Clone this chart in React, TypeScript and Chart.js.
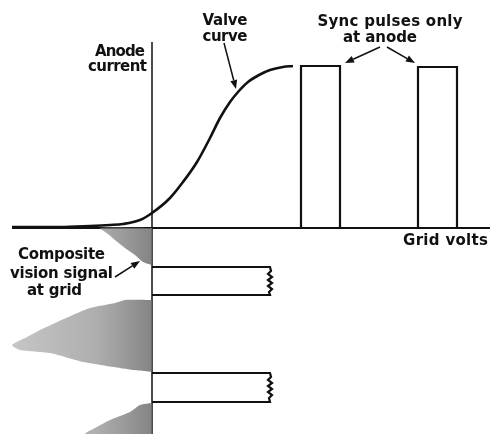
import React, { useEffect, useRef } from "react";
import { Chart, registerables } from "chart.js";

Chart.register(...registerables);

// Data units: x = grid volts (0 at the anode-current axis), y = anode current above 0,
// time (signal) below 0.
const valveCurveX = [-140, -92, -62, -42, -29, -12, 0, 18, 31, 45, 58, 68, 78, 86, 96, 107, 118, 131, 141];
const valveCurveY = [1, 1, 2, 3, 4, 8, 15, 30, 46, 66, 90, 110, 126, 136, 146, 153, 158, 161, 162];

const syncPulse1X = [149, 149, 188, 188];
const syncPulse1Y = [0, 162, 162, 0];
const syncPulse2X = [266, 266, 305, 305];
const syncPulse2Y = [0, 161, 161, 0];

const gridPulse1X = [0, 118, 119, 116, 120, 116, 120, 116, 120, 117, 118, 0];
const gridPulse1Y = [-39, -39, -43, -46, -49, -52, -55, -58, -61, -64, -67, -67];
const gridPulse2X = [0, 118, 119, 116, 120, 116, 120, 116, 120, 117, 118, 0];
const gridPulse2Y = [-145, -145, -149, -152, -155, -158, -161, -164, -167, -170, -174, -174];

const signal1X = [0, -52, -44, -37, -27, -17, -9, 0];
const signal1Y = [0, 0, -6, -12, -20, -27, -34, -37];
const signal2X = [0, -27, -37, -62, -77, -97, -112, -125, -140, -132, -102, -80, -69, -19, -7, 0];
const signal2Y = [-72, -72, -75, -80, -86, -95, -102, -109, -117, -122, -125, -131, -134, -142, -143, -144];
const signal3X = [0, -12, -22, -42, -57, -67, 0];
const signal3Y = [-175, -177, -184, -192, -200, -206, -206];

const axisX = [-140, 338];
const axisY = [186, -206];

const labelTexts = ["Valve", "curve", "Anode", "current", "Sync pulses only", "at anode", "Grid volts", "Composite", "vision signal", "at grid"];
const labelX = [73, 73, -32, -34.5, 238, 228, 293.5, -90.5, -90.5, -97.5];
const labelY = [203, 187, 172, 157, 202, 186, -17, -31, -50, -67];
const labelW = [45, 45, 50, 59, 145, 74, 85, 87, 103, 55];

const arrowFromX = [72, 228, 235, -37];
const arrowFromY = [185, 181, 181, -49];
const arrowToX = [84, 193, 263, -12];
const arrowToY = [139, 165, 165, -33];

const pts = (xs: number[], ys: number[]) => xs.map((x, i) => ({ x, y: ys[i] }));

const annotationPlugin = {
  id: "annotations",
  afterDatasetsDraw(chart: any) {
    const { ctx, scales } = chart;
    const xs = scales.x;
    const ys = scales.y;
    ctx.save();
    ctx.fillStyle = "#111";
    ctx.strokeStyle = "#111";
    ctx.textAlign = "left";
    ctx.textBaseline = "alphabetic";
    ctx.font = 'bold 15px "DejaVu Sans"';
    labelTexts.forEach((t, i) => {
      ctx.letterSpacing = "0px";
      const m = ctx.measureText(t).width;
      const sp = (labelW[i] - m) / Math.max(1, t.length - 1);
      ctx.letterSpacing = sp + "px";
      const cx = xs.getPixelForValue(labelX[i]);
      const by = ys.getPixelForValue(labelY[i]);
      ctx.fillText(t, cx - labelW[i] / 2, by);
    });
    ctx.letterSpacing = "0px";
    ctx.lineWidth = 1.5;
    arrowFromX.forEach((fx, i) => {
      const x1 = xs.getPixelForValue(fx);
      const y1 = ys.getPixelForValue(arrowFromY[i]);
      const x2 = xs.getPixelForValue(arrowToX[i]);
      const y2 = ys.getPixelForValue(arrowToY[i]);
      const a = Math.atan2(y2 - y1, x2 - x1);
      const L = 9, W = 3.5;
      const bx = x2 - L * Math.cos(a);
      const by = y2 - L * Math.sin(a);
      ctx.beginPath();
      ctx.moveTo(x1, y1);
      ctx.lineTo(bx, by);
      ctx.stroke();
      ctx.beginPath();
      ctx.moveTo(x2, y2);
      ctx.lineTo(bx + W * Math.sin(a), by - W * Math.cos(a));
      ctx.lineTo(bx - W * Math.sin(a), by + W * Math.cos(a));
      ctx.closePath();
      ctx.fill();
    });
    ctx.restore();
  },
};

export default function App() {
  const ref = useRef<HTMLCanvasElement>(null);
  useEffect(() => {
    if (!ref.current) return;
    const grayFill = (c: any) => {
      const chart = c.chart;
      const area = chart.chartArea;
      if (!area) return "rgba(140,140,140,0.6)";
      const xs = chart.scales.x;
      const g = chart.ctx.createLinearGradient(xs.getPixelForValue(-140), 0, xs.getPixelForValue(0), 0);
      g.addColorStop(0, "rgba(150,150,150,0.55)");
      g.addColorStop(0.6, "rgba(140,140,140,0.7)");
      g.addColorStop(1, "rgba(110,110,110,0.85)");
      return g;
    };
    const line = (data: any, width: number, extra: any = {}) => ({
      data,
      borderColor: "#111",
      borderWidth: width,
      pointRadius: 0,
      showLine: true,
      fill: false,
      tension: 0,
      ...extra,
    });
    const shape = (data: any) => ({
      data,
      borderColor: "rgba(0,0,0,0)",
      borderWidth: 0,
      backgroundColor: grayFill,
      pointRadius: 0,
      showLine: true,
      fill: "shape",
      tension: 0.2,
    });
    const chart = new Chart(ref.current, {
      type: "scatter",
      data: {
        datasets: [
          shape(pts(signal1X, signal1Y)),
          shape(pts(signal2X, signal2Y)),
          shape(pts(signal3X, signal3Y)),
          line(pts(axisX, [0, 0]), 2.2),
          line(pts([0, 0], axisY), 1.5),
          line(pts(valveCurveX, valveCurveY), 2.6, { cubicInterpolationMode: "monotone" }),
          line(pts(syncPulse1X, syncPulse1Y), 2.2),
          line(pts(syncPulse2X, syncPulse2Y), 2.2),
          line(pts(gridPulse1X, gridPulse1Y), 2.2),
          line(pts(gridPulse2X, gridPulse2Y), 2.2),
        ],
      },
      options: {
        responsive: false,
        animation: false,
        layout: { padding: 0 },
        plugins: { legend: { display: false }, tooltip: { enabled: false } },
        scales: {
          x: { type: "linear", min: -152, max: 338, display: false },
          y: { type: "linear", min: -206, max: 228, display: false },
        },
      },
      plugins: [annotationPlugin],
    });
    return () => chart.destroy();
  }, []);
  return (
    <div style={{ position: "absolute", left: 0, top: 0, width: 490, height: 434, background: "#fff" }}>
      <canvas ref={ref} width={490} height={434} style={{ display: "block" }} />
    </div>
  );
}
